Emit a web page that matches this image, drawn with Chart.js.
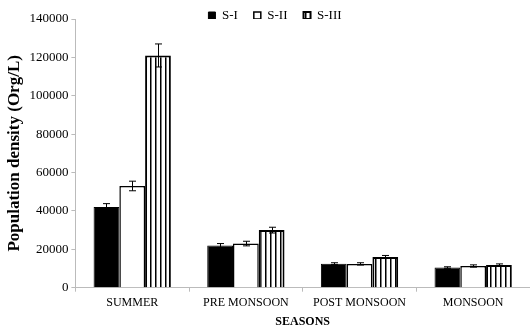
<!DOCTYPE html>
<html>
<head>
  <meta charset="UTF-8">
  <title>Population density by season</title>
  <script src="https://cdn.jsdelivr.net/npm/chart.js"></script>
  <style>
    html, body { margin: 0; padding: 0; background: #fff; }
    #wrap { width: 530px; height: 329px; }
  </style>
</head>
<body>
  <div id="wrap"><canvas id="chart"></canvas></div>
  <script>
    const seasons = ['SUMMER', 'PRE MONSOON', 'POST MONSOON', 'MONSOON'];
    const s1 = [42000, 22000, 12500, 10500];
    const s2 = [53000, 23000, 12400, 11300];
    const s3 = [121000, 30000, 16000, 11800];
    const s1Err = [1800, 1000, 500, 400];
    const s2Err = [2500, 1200, 600, 600];
    const s3Err = [6000, 1500, 800, 600];
    const yTicks = [0, 20000, 40000, 60000, 80000, 100000, 120000, 140000];

    const FONT = '"Liberation Serif", "Times New Roman", serif';

    // vertical stripes for S-III
    const tile = document.createElement('canvas');
    tile.width = 5; tile.height = 10;
    const tc = tile.getContext('2d');
    tc.fillStyle = '#fff';
    tc.fillRect(0, 0, 5, 10);
    tc.fillStyle = '#000';
    tc.fillRect(0, 0, 1.5, 10);
    const stripes = tc.createPattern(tile, 'repeat');

    const errorBars = {
      id: 'errorBars',
      afterDatasetsDraw(chart) {
        const ctx = chart.ctx;
        const y = chart.scales.y;
        ctx.save();
        ctx.strokeStyle = '#000';
        ctx.lineWidth = 1;
        chart.data.datasets.forEach((ds, di) => {
          const meta = chart.getDatasetMeta(di);
          meta.data.forEach((bar, i) => {
            const v = ds.data[i], e = ds.errors[i];
            const top = y.getPixelForValue(v + e);
            const bot = y.getPixelForValue(v - e);
            const x = Math.round(bar.x) + 0.5;
            ctx.beginPath();
            ctx.moveTo(x, top); ctx.lineTo(x, bot);
            ctx.moveTo(x - 3.5, top); ctx.lineTo(x + 3.5, top);
            ctx.moveTo(x - 3.5, bot); ctx.lineTo(x + 3.5, bot);
            ctx.stroke();
          });
        });
        ctx.restore();
      }
    };

    // let the legend overlap the top of the plot a little, like the original
    const tightLegend = {
      id: 'tightLegend',
      afterInit(chart) {
        const lg = chart.legend;
        if (lg) {
          const fit = lg.fit;
          lg.fit = function () { fit.call(this); this.height -= 13; };
        }
      },
      afterLayout(chart) {
        const lg = chart.legend;
        if (lg) { lg.left += 10; lg.right += 10; }
      }
    };

    new Chart(document.getElementById('chart'), {
      type: 'bar',
      data: {
        labels: seasons,
        datasets: [
          { label: 'S-I', data: s1, errors: s1Err, backgroundColor: '#000', borderColor: '#000', borderWidth: 1 },
          { label: 'S-II', data: s2, errors: s2Err, backgroundColor: '#fff', borderColor: '#000', borderWidth: 1.5 },
          { label: 'S-III', data: s3, errors: s3Err, backgroundColor: stripes, borderColor: '#000', borderWidth: 2 }
        ]
      },
      options: {
        responsive: true,
        maintainAspectRatio: false,
        animation: false,
        barPercentage: 1,
        categoryPercentage: 0.68,
        layout: { padding: { left: 0, right: 0, top: -7, bottom: 0 } },
        plugins: {
          tooltip: { enabled: false },
          legend: {
            position: 'top',
            labels: {
              boxWidth: 7, boxHeight: 7, padding: 16,
              color: '#000',
              font: { family: FONT, size: 13 }
            }
          }
        },
        scales: {
          x: {
            offset: true,
            grid: { display: true, drawOnChartArea: false, offset: true, tickLength: 4, color: '#bbb' },
            border: { color: '#bbb' },
            ticks: { color: '#000', font: { family: FONT, size: 12 }, padding: 4 },
            title: { display: true, text: 'SEASONS', color: '#000', font: { family: FONT, size: 12, weight: 'bold' }, padding: { top: 0.5, bottom: 0 } }
          },
          y: {
            min: 0,
            max: 140000,
            afterBuildTicks(axis) { axis.ticks = yTicks.map(v => ({ value: v })); },
            grid: { display: true, drawOnChartArea: false, tickLength: 4, color: '#bbb' },
            border: { color: '#bbb' },
            ticks: { color: '#000', font: { family: FONT, size: 13 }, padding: 3, callback: v => String(v) },
            title: { display: true, text: 'Population density (Org/L)', color: '#000', font: { family: FONT, size: 17, weight: 'bold' }, padding: { bottom: 2 } }
          }
        }
      },
      plugins: [errorBars, tightLegend]
    });
  </script>
</body>
</html>
